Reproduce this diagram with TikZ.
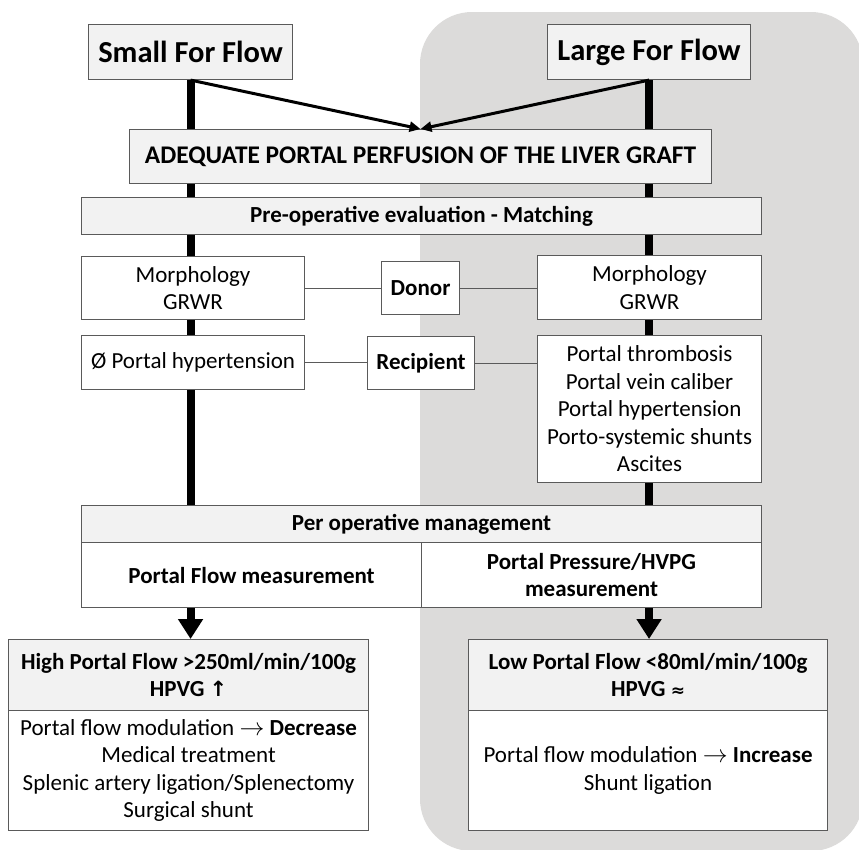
\documentclass[tikz,border=0pt]{standalone}
\usepackage{fontspec}
\setmainfont{Carlito}
\newfontfamily\symf{DejaVu Sans}
\usetikzlibrary{arrows.meta}
\definecolor{bgrey}{RGB}{220,219,218}
\definecolor{hdr}{RGB}{242,242,242}
\definecolor{edge}{RGB}{90,90,90}
\pgfdeclarelayer{back}
\pgfdeclarelayer{mid}
\pgfsetlayers{back,mid,main}
\begin{document}
\begin{tikzpicture}[x=1pt,y=-1pt,
  box/.style={draw=edge,line width=1.1pt,fill=white,inner sep=0pt,anchor=north west,align=center,font=\fontsize{23}{27.5}\selectfont},
  hbox/.style={box,fill=hdr},
  bbox/.style={box,font=\fontsize{23}{27.5}\selectfont\bfseries},
  hbbox/.style={hbox,font=\fontsize{23}{27.5}\selectfont\bfseries},
  thick line/.style={line width=8pt,black},
  thin link/.style={draw=edge,line width=1pt},
  diag/.style={line width=3pt,-{Triangle[length=11pt,width=10pt]}},
  bigarrow/.style={line width=8pt,-{Triangle[length=20pt,width=24pt]}}
]
\useasboundingbox (0,0) rectangle (859,849);
\begin{pgfonlayer}{back}
  \fill[bgrey,rounded corners=52pt] (420,12) rectangle (863,851);
\end{pgfonlayer}

\node[hbox,minimum width=204pt,minimum height=55pt,font=\fontsize{30.5}{34}\selectfont\bfseries] (small) at (88,24) {Small For Flow};
\node[hbox,minimum width=203pt,minimum height=55pt,font=\fontsize{30.5}{34}\selectfont\bfseries] (large) at (547,24) {Large For Flow};
\node[hbox,minimum width=582pt,minimum height=54pt,font=\fontsize{25.4}{30}\selectfont\bfseries] (adequate) at (129,129) {ADEQUATE PORTAL PERFUSION OF THE LIVER GRAFT};
\node[hbbox,minimum width=680pt,minimum height=37pt] (preop) at (81,197) {Pre-operative evaluation - Matching};
\node[box,minimum width=223pt,minimum height=63pt] (morphL) at (81,256) {Morphology\\GRWR};
\node[bbox,minimum width=78pt,minimum height=53pt] (donor) at (381,261) {Donor};
\node[box,minimum width=224pt,minimum height=64pt] (morphR) at (537,255) {Morphology\\GRWR};
\node[box,minimum width=223pt,minimum height=54pt] (phtL) at (81,335) {Ø Portal hypertension};
\node[bbox,minimum width=107pt,minimum height=53pt] (recip) at (367,336) {Recipient};
\node[box,minimum width=224pt,minimum height=147pt] (listR) at (537,335) {Portal thrombosis\\Portal vein caliber\\Portal hypertension\\Porto-systemic shunts\\Ascites};
\node[hbbox,minimum width=680pt,minimum height=37pt] (perop) at (81,505) {Per operative management};
\node[bbox,minimum width=340pt,minimum height=65pt] (pflow) at (81,542) {Portal Flow measurement};
\node[bbox,minimum width=340pt,minimum height=65pt] (ppress) at (421,542) {Portal Pressure/HVPG\\measurement};
\node[hbbox,minimum width=360pt,minimum height=71pt] (hiH) at (8,639) {High Portal Flow >250ml/min/100g\\HPVG {\symf\fontsize{21}{27.5}\selectfont ↑}};
\node[box,minimum width=360pt,minimum height=120pt] (hiB) at (8,710) {Portal flow modulation $\rightarrow$ \textbf{Decrease}\\Medical treatment\\Splenic artery ligation/Splenectomy\\Surgical shunt};
\node[hbbox,minimum width=359pt,minimum height=71pt] (loH) at (468,639) {Low Portal Flow <80ml/min/100g\\HPVG {\symf\fontsize{17}{27.5}\selectfont ≈}};
\node[box,minimum width=359pt,minimum height=120pt] (loB) at (468,710) {Portal flow modulation $\rightarrow$ \textbf{Increase}\\Shunt ligation};

\begin{pgfonlayer}{mid}
  \draw[thick line] (small.south) -- (small.south |- perop.north);
  \draw[thick line] (large.south) -- (large.south |- perop.north);
\end{pgfonlayer}
\draw[diag] (small.south) -- (adequate.north);
\draw[diag] (large.south) -- (adequate.north);
\draw[thin link] (morphL.east) -- (donor.west);
\draw[thin link] (donor.east) -- (donor.east -| morphR.west);
\draw[thin link] (phtL.east) -- (phtL.east -| recip.west);
\draw[thin link] (recip.east) -- (recip.east -| listR.west);
\draw[bigarrow] (small.south |- pflow.south) -- (small.south |- hiH.north);
\draw[bigarrow] (large.south |- ppress.south) -- (large.south |- loH.north);
\end{tikzpicture}
\end{document}
